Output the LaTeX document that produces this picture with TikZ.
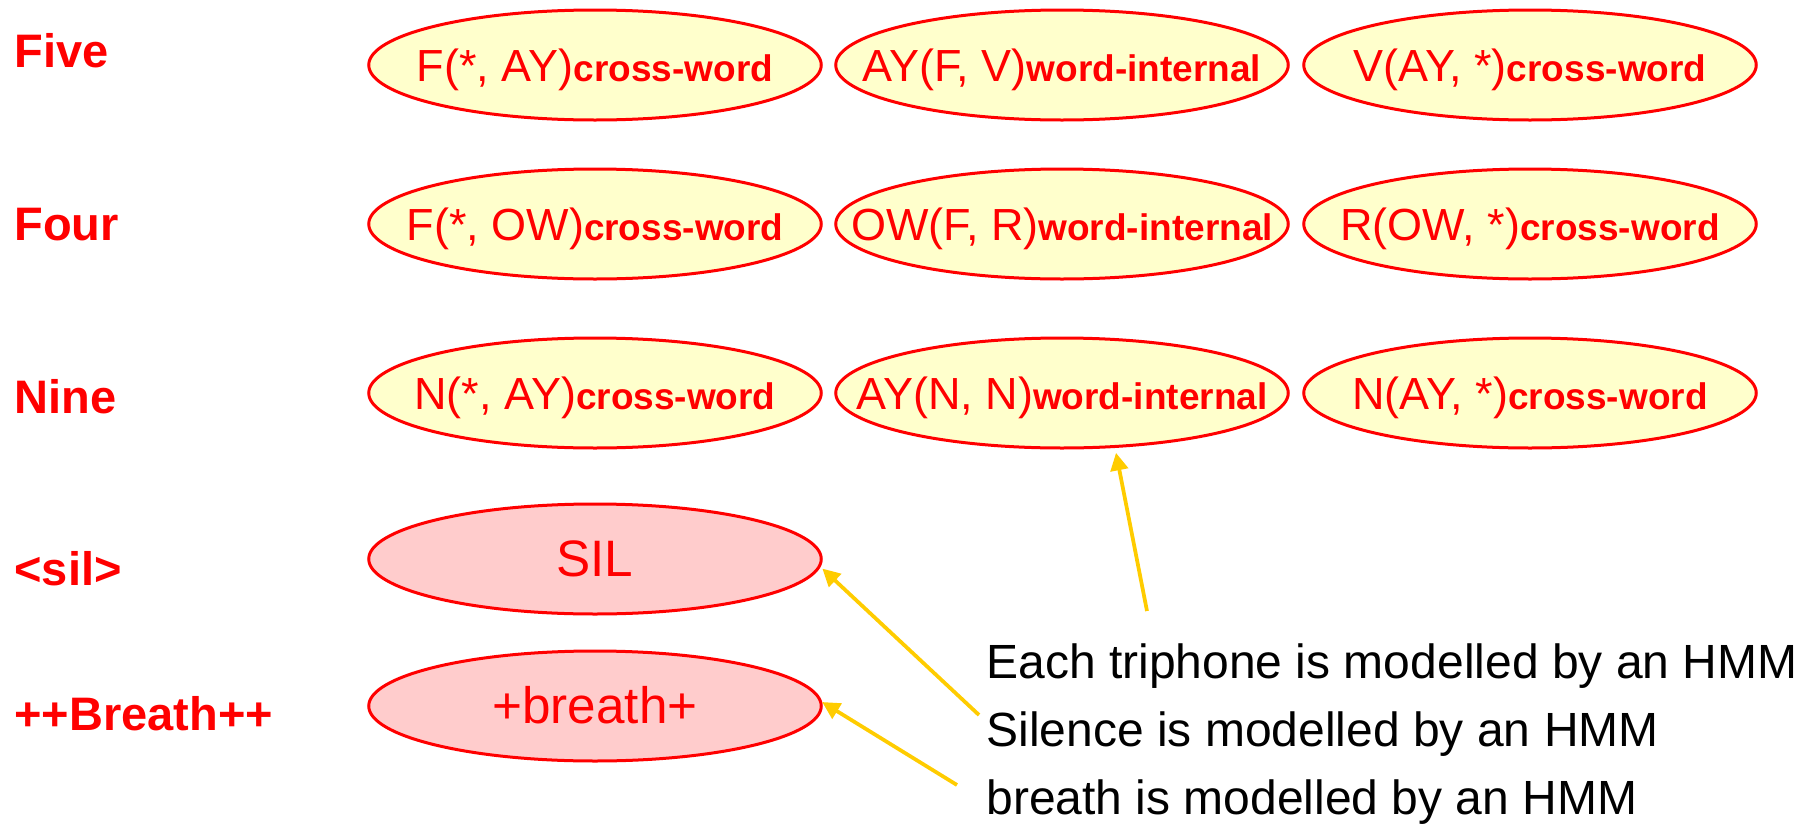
\documentclass[tikz,border=0pt]{standalone}
\usepackage{fontspec}
\setmainfont{Liberation Sans}
\usetikzlibrary{shapes.geometric,arrows.meta}
\definecolor{tred}{HTML}{FF0000}
\definecolor{tyel}{HTML}{FFFFCC}
\definecolor{tpink}{HTML}{FFCCCC}
\definecolor{tgold}{HTML}{FFCC00}
\tikzset{
  tri/.style={ellipse, draw=tred, fill=tyel, line width=1.2pt, minimum width=181pt, minimum height=44pt, inner sep=0pt, text=tred, text height=12.8pt, text depth=0pt},
  sil/.style={tri, fill=tpink, text height=14pt},
  wlabel/.style={anchor=base west, inner sep=0pt, text=tred, font=\fontsize{18.8}{22}\selectfont\bfseries},
  note/.style={anchor=base west, inner sep=0pt, text=black, font=\fontsize{19.2}{23}\selectfont},
  arr/.style={draw=tgold, line width=1.5pt, -{Triangle[length=7pt,width=7pt]}}
}
\newcommand{\phn}[2]{\makebox[0pt][c]{{\fontsize{18}{20}\selectfont #1}{\fontsize{14.8}{16}\selectfont\bfseries #2}}}
\begin{document}
\begin{tikzpicture}[x=0.4pt,y=-0.4pt]
\useasboundingbox (0,0) rectangle (1816,827);
% word labels
\node[wlabel] (lfive) at (14,67) {Five};
\node[wlabel] (lfour) at (14,240) {Four};
\node[wlabel] (lnine) at (14,413) {Nine};
\node[wlabel] (lsil) at (14,585) {<sil>};
\node[wlabel] (lbr) at (14,730) {++Breath++};
% triphones
\node[tri] (f1) at (595,65) {\phn{F(*, AY)}{cross-word}};
\node[tri] (f2) at (1062,65) {\phn{AY(F, V)}{word-internal}};
\node[tri] (f3) at (1530,65) {\phn{V(AY, *)}{cross-word}};
\node[tri] (o1) at (595,224) {\phn{F(*, OW)}{cross-word}};
\node[tri] (o2) at (1062,224) {\phn{OW(F, R)}{word-internal}};
\node[tri] (o3) at (1530,224) {\phn{R(OW, *)}{cross-word}};
\node[tri] (n1) at (595,393) {\phn{N(*, AY)}{cross-word}};
\node[tri] (n2) at (1062,393) {\phn{AY(N, N)}{word-internal}};
\node[tri] (n3) at (1530,393) {\phn{N(AY, *)}{cross-word}};
\node[sil] (sil) at (595,559) {\fontsize{20.5}{22}\selectfont SIL};
\node[sil] (br) at (595,706) {\fontsize{20.5}{22}\selectfont +breath+};
% notes
\node[note] (t1) at (986,678) {Each triphone is modelled by an HMM};
\node[note] (t2) at (986,746) {Silence is modelled by an HMM};
\node[note] (t3) at (986,814) {breath is modelled by an HMM};
% arrows
\coordinate (a1) at (1147,611);
\coordinate (a2) at (979,715);
\coordinate (a3) at (957,785);
\draw[arr, shorten >=2pt] (a1) -- (n2.-46);
\draw[arr, shorten >=1pt] (a2) -- (sil.-2);
\draw[arr, shorten >=0pt] (a3) -- (br.1);
\end{tikzpicture}
\end{document}
